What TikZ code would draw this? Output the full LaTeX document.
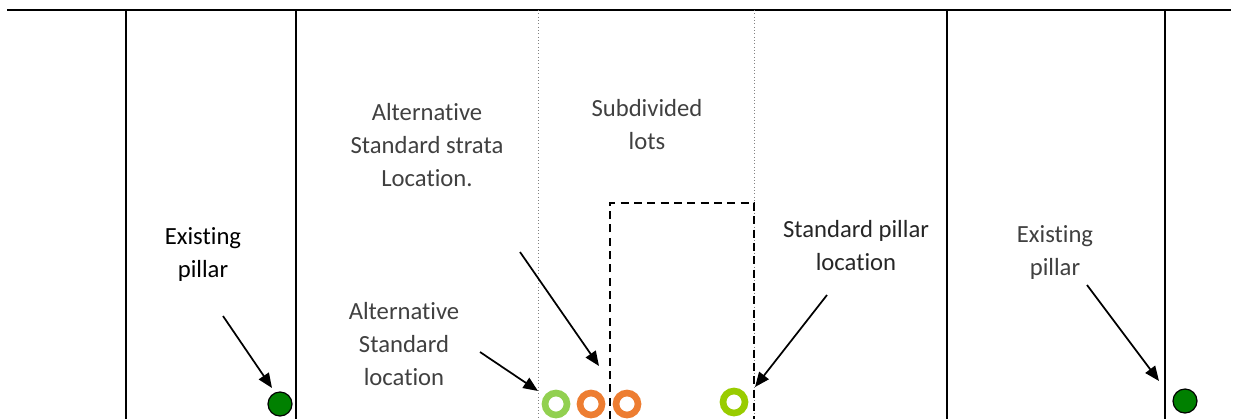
\documentclass[tikz,border=0pt]{standalone}
\usepackage{fontspec}
\setmainfont[Ligatures=NoCommon]{Carlito}
\usetikzlibrary{arrows.meta}
\definecolor{txtgray}{HTML}{404040}
\definecolor{ringlg}{HTML}{92D050}
\definecolor{ringor}{HTML}{ED7D31}
\definecolor{ringyg}{HTML}{99CC00}
\definecolor{pillar}{HTML}{008000}
\tikzset{
  wall/.style={line width=1.5pt, black},
  thin dot/.style={line width=0.5pt, gray, dotted},
  lbl/.style={align=center, font=\fontsize{18.5}{24.75}\selectfont, inner sep=0pt},
  ptr/.style={line width=1.3pt, -{Triangle[length=11pt,width=9pt]}},
  ring/.style={circle, draw=#1, line width=5pt, minimum size=16.5pt, inner sep=0pt},
  solid pillar/.style={circle, draw=black, fill=pillar, line width=0.9pt, minimum size=18pt, inner sep=0pt}
}
\begin{document}
\begin{tikzpicture}[x=0.75pt,y=-0.75pt]
\useasboundingbox (0,0) rectangle (1236,419);
% top line
\draw[wall] (7,10) -- (1231,10);
% vertical walls
\foreach \xx in {126,296,947,1165} \draw[wall] (\xx,10) -- (\xx,419);
\foreach \xx in {538,754} \draw[thin dot] (\xx,10) -- (\xx,419);
% dashed subdivided lot
\draw[line width=1.3pt, dash pattern=on 6pt off 4pt] (610,419) -- (610,203) -- (754,203) -- (754,419);
% pillars
\node[solid pillar] (p1) at (280,404) {};
\node[solid pillar] (p2) at (1185,401) {};
\node[ring=ringlg] (r1) at (556,404) {};
\node[ring=ringor] (r2) at (591,404) {};
\node[ring=ringor] (r3) at (627,404) {};
\node[ring=ringyg] (r4) at (734,402) {};
% labels
\node[lbl, text=black] (t1) at (203,254) {Existing\\pillar};
\node[lbl, text=txtgray] (t2) at (427,145) {Alternative\\Standard strata\\Location.};
\node[lbl, text=txtgray] (t3) at (647,125) {Subdivided\\lots};
\node[lbl, text=black!85] (t4) at (856,246) {Standard pillar\\location};
\node[lbl, text=txtgray] (t5) at (1055,252) {Existing\\pillar};
\node[lbl, text=txtgray] (t6) at (404,344) {Alternative\\Standard\\location};
% arrow coordinates
\coordinate (a1s) at (223,316); \coordinate (a1e) at (272,388);
\coordinate (a2s) at (520,252); \coordinate (a2e) at (599,366);
\coordinate (a3s) at (480,352); \coordinate (a3e) at (538,391);
\coordinate (a4s) at (827,295); \coordinate (a4e) at (755,387);
\coordinate (a5s) at (1087,285); \coordinate (a5e) at (1159,381);
\draw[ptr] (a1s) -- (a1e);
\draw[ptr] (a2s) -- (a2e);
\draw[ptr] (a3s) -- (a3e);
\draw[ptr] (a4s) -- (a4e);
\draw[ptr] (a5s) -- (a5e);
\end{tikzpicture}
\end{document}
